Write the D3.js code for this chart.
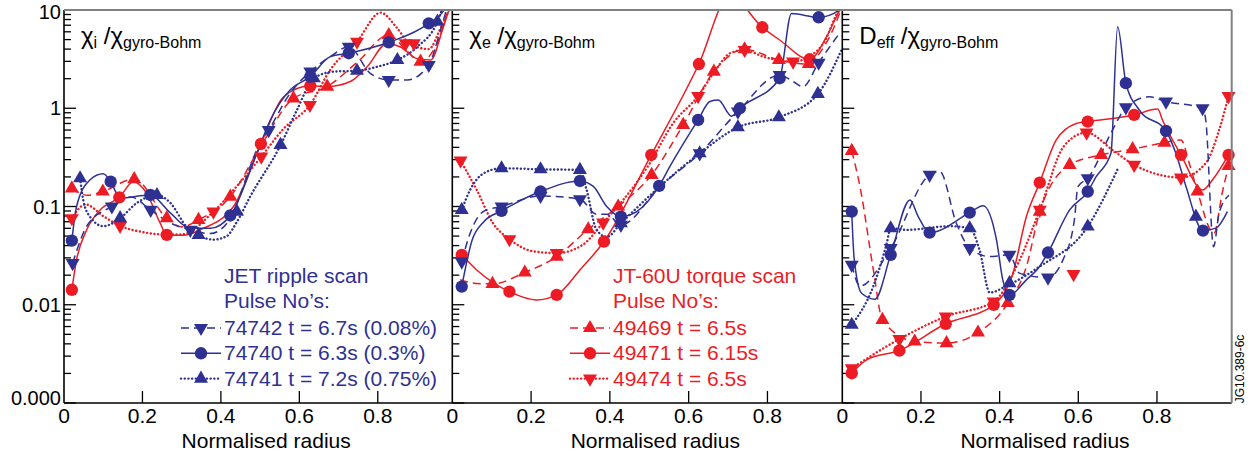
<!DOCTYPE html>
<meta charset="utf-8">
<style>
	body { margin:0; background:#fff; }
	svg { font-family: "Liberation Sans", Arial, Helvetica, sans-serif; }
</style>
<script src="https://cdn.jsdelivr.net/npm/d3@7"></script>
<body>
<svg id="chart" width="1257" height="459"></svg>
<script>
// axis ticks and labels
var xTicks = [0, 0.2, 0.4, 0.6, 0.8];
var xTickLabels = ["0", "0.2", "0.4", "0.6", "0.8"];
var yTicks = [0.001, 0.01, 0.1, 1, 10];
var yTickLabels = ["0.000", "0.01", "0.1", "1", "10"];
var panelTitles = [["χ", "i"], ["χ", "e"], ["D", "eff"]];

var jetNames = ["74742 t = 6.7s (0.08%)", "74740 t = 6.3s (0.3%)", "74741 t = 7.2s (0.75%)"];
var jtNames = ["49469 t = 6.5s", "49471 t = 6.15s", "49474 t = 6.5s"];

// ---- panel 1: chi_i ----  [normalised radius, value]
var chiI_74742_pts = [[0.022,0.0265],[0.122,0.10],[0.221,0.0923],[0.322,0.0578],[0.522,0.60],[0.628,2.36],[0.726,4.23],[0.828,1.94],[0.930,2.76]];
var chiI_74742_line = [[0.022,0.0265],[0.06,0.065],[0.122,0.10],[0.17,0.125],[0.221,0.092],[0.271,0.068],[0.322,0.058],[0.373,0.053],[0.416,0.068],[0.50,0.44],[0.522,0.60],[0.577,1.43],[0.628,2.36],[0.679,3.35],[0.726,4.23],[0.781,2.27],[0.828,1.94],[0.875,1.94],[0.93,2.76],[0.96,6.26],[0.985,14]];
var chiI_74740_pts = [[0.020,0.045],[0.119,0.179],[0.220,0.131],[0.424,0.081],[0.628,2.10],[0.726,3.63],[0.828,4.69],[0.930,7.32]];
var chiI_74740_line = [[0.02,0.045],[0.032,0.10],[0.066,0.186],[0.10,0.215],[0.119,0.179],[0.143,0.122],[0.22,0.131],[0.271,0.086],[0.322,0.06],[0.373,0.06],[0.424,0.081],[0.492,0.35],[0.526,0.76],[0.577,1.54],[0.628,2.1],[0.679,3.35],[0.726,3.63],[0.828,4.69],[0.93,7.32],[0.969,10],[0.99,16]];
var chiI_74741_pts = [[0.041,0.194],[0.143,0.076],[0.237,0.131],[0.343,0.0514],[0.441,0.0887],[0.552,0.423],[0.637,2.02],[0.747,2.41],[0.850,3.10],[0.952,7.6]];
var chiI_74741_line = [[0.041,0.194],[0.049,0.117],[0.066,0.079],[0.10,0.063],[0.143,0.076],[0.186,0.109],[0.237,0.131],[0.271,0.109],[0.313,0.062],[0.343,0.051],[0.381,0.046],[0.415,0.05],[0.441,0.07],[0.475,0.127],[0.552,0.42],[0.594,0.96],[0.637,2.02],[0.688,2.36],[0.747,2.41],[0.799,2.65],[0.85,3.1],[0.901,4.23],[0.952,7.6],[0.975,14]];
var chiI_49469_pts = [[0.020,0.153],[0.099,0.142],[0.179,0.19],[0.262,0.076],[0.343,0.073],[0.424,0.126],[0.585,1.26],[0.671,1.66],[0.828,5.57],[0.909,2.98]];
var chiI_49469_line = [[0.02,0.153],[0.06,0.13],[0.099,0.142],[0.179,0.19],[0.262,0.076],[0.30,0.062],[0.343,0.073],[0.424,0.126],[0.50,0.40],[0.585,1.26],[0.671,1.66],[0.75,3.0],[0.828,5.57],[0.87,4.0],[0.909,2.98],[0.95,4.5],[0.985,12]];
var chiI_49471_pts = [[0.020,0.0142],[0.141,0.124],[0.262,0.0514],[0.502,0.433],[0.628,1.69]];
var chiI_49471_line = [[0.02,0.0142],[0.032,0.0286],[0.058,0.058],[0.092,0.092],[0.141,0.124],[0.177,0.179],[0.211,0.136],[0.245,0.068],[0.262,0.0514],[0.305,0.051],[0.347,0.058],[0.432,0.10],[0.502,0.433],[0.56,1.31],[0.628,1.69],[0.671,1.66],[0.73,1.87],[0.773,2.65],[0.824,4.6],[0.858,4.2],[0.901,3.2],[0.935,3.1],[0.965,6.3],[0.99,13]];
var chiI_49474_pts = [[0.020,0.076],[0.143,0.0635],[0.381,0.0887],[0.503,0.322],[0.627,1.08],[0.747,4.76],[0.871,4.58],[0.892,4.58]];
var chiI_49474_line = [[0.02,0.076],[0.055,0.105],[0.10,0.08],[0.143,0.0635],[0.20,0.055],[0.25,0.052],[0.30,0.052],[0.381,0.0887],[0.44,0.16],[0.503,0.322],[0.56,0.62],[0.627,1.08],[0.68,2.5],[0.747,4.76],[0.807,9.4],[0.85,6.5],[0.88,4.58],[0.93,4.0],[0.96,6.5],[0.99,12]];

// ---- panel 2: chi_e ----
var chiE_74742_pts = [[0.024,0.0275],[0.125,0.10],[0.224,0.128],[0.324,0.1186],[0.428,0.065],[0.628,0.348],[0.725,0.923],[0.831,2.18],[0.930,2.91]];
var chiE_74742_line = [[0.024,0.0275],[0.045,0.053],[0.079,0.089],[0.125,0.10],[0.224,0.128],[0.324,0.1186],[0.366,0.0835],[0.392,0.0835],[0.428,0.065],[0.527,0.16],[0.628,0.348],[0.725,0.923],[0.831,2.18],[0.865,1.87],[0.89,1.66],[0.93,2.91],[0.983,5.8]];
var chiE_74740_pts = [[0.024,0.0153],[0.125,0.0902],[0.224,0.142],[0.324,0.182],[0.428,0.0789],[0.525,0.162],[0.624,0.76],[0.730,1.0],[0.831,2.02],[0.930,8.43]];
var chiE_74740_line = [[0.024,0.0153],[0.05,0.045],[0.08,0.07],[0.125,0.0902],[0.224,0.142],[0.324,0.182],[0.358,0.16],[0.392,0.10],[0.428,0.0789],[0.468,0.0887],[0.525,0.162],[0.552,0.254],[0.624,0.76],[0.654,1.17],[0.675,1.21],[0.709,0.83],[0.73,1.0],[0.831,2.02],[0.861,9.2],[0.93,8.43],[0.983,10],[0.99,11]];
var chiE_74741_pts = [[0.024,0.0923],[0.125,0.245],[0.224,0.239],[0.324,0.236],[0.428,0.0676],[0.628,0.348],[0.725,0.641],[0.829,0.81],[0.928,1.40]];
var chiE_74741_line = [[0.024,0.0923],[0.045,0.147],[0.079,0.217],[0.125,0.245],[0.224,0.239],[0.324,0.236],[0.341,0.1475],[0.366,0.058],[0.392,0.049],[0.428,0.0676],[0.527,0.16],[0.628,0.348],[0.725,0.641],[0.829,0.81],[0.928,1.4],[0.988,3.92]];
var chiE_49469_pts = [[0.102,0.0163],[0.184,0.0213],[0.265,0.0309],[0.345,0.0587],[0.421,0.10],[0.506,0.21],[0.586,0.676],[0.664,2.36],[0.742,3.98],[0.829,3.10],[0.905,2.82]];
var chiE_49469_line = [[0.02,0.018],[0.06,0.0165],[0.102,0.0163],[0.184,0.0213],[0.265,0.0309],[0.345,0.0587],[0.421,0.10],[0.506,0.21],[0.586,0.676],[0.664,2.36],[0.742,3.98],[0.829,3.1],[0.905,2.82],[0.932,3.63],[0.966,6.26],[0.99,11]];
var chiE_49471_pts = [[0.024,0.0322],[0.145,0.0136],[0.265,0.0126],[0.385,0.044],[0.505,0.335],[0.626,2.82],[0.787,6.67],[0.907,3.15]];
var chiE_49471_line = [[0.024,0.0322],[0.062,0.0226],[0.145,0.0136],[0.214,0.0112],[0.265,0.0126],[0.324,0.0226],[0.385,0.044],[0.505,0.335],[0.626,2.82],[0.704,14],[0.787,6.67],[0.831,4.95],[0.907,3.15],[0.95,5.35],[0.979,9.2],[0.99,11]];
var chiE_49474_pts = [[0.021,0.293],[0.145,0.0465],[0.265,0.0335],[0.383,0.0686],[0.624,1.33],[0.742,3.92],[0.865,2.98]];
var chiE_49474_line = [[0.021,0.293],[0.062,0.1475],[0.104,0.067],[0.145,0.0465],[0.205,0.035],[0.265,0.0335],[0.332,0.041],[0.383,0.0686],[0.434,0.117],[0.50,0.27],[0.56,0.7],[0.624,1.33],[0.671,2.54],[0.705,3.63],[0.742,3.92],[0.789,3.35],[0.865,2.98],[0.905,3.35],[0.947,4.95],[0.972,8.5],[0.99,12]];

// ---- panel 3: D_eff ----
var dEff_74742_pts = [[0.024,0.0255],[0.123,0.0377],[0.222,0.21],[0.324,0.0377],[0.425,0.0322],[0.523,0.0189],[0.624,0.194],[0.721,1.02],[0.823,1.17],[0.916,1.0]];
var dEff_74742_line = [[0.024,0.0255],[0.045,0.0155],[0.123,0.0377],[0.222,0.21],[0.248,0.226],[0.29,0.0676],[0.324,0.0377],[0.375,0.0309],[0.425,0.0322],[0.45,0.021],[0.523,0.0189],[0.561,0.0286],[0.59,0.0731],[0.599,0.159],[0.624,0.194],[0.687,0.60],[0.721,1.02],[0.781,1.31],[0.823,1.17],[0.916,1.0],[0.924,0.76],[0.944,0.039],[0.958,0.0855],[0.983,0.13]];
var dEff_74740_pts = [[0.024,0.0887],[0.123,0.0322],[0.222,0.0543],[0.324,0.0867],[0.425,0.0126],[0.523,0.034],[0.624,0.142],[0.721,1.80],[0.823,0.587],[0.917,0.0569]];
var dEff_74740_line = [[0.024,0.0887],[0.03,0.03],[0.049,0.0131],[0.083,0.0114],[0.123,0.0322],[0.172,0.1167],[0.193,0.0789],[0.222,0.0543],[0.324,0.0867],[0.358,0.102],[0.392,0.0457],[0.408,0.0179],[0.425,0.0126],[0.468,0.0179],[0.501,0.0244],[0.523,0.034],[0.578,0.0923],[0.624,0.142],[0.645,0.2],[0.683,0.348],[0.70,6.77],[0.721,1.80],[0.755,0.96],[0.823,0.587],[0.848,0.348],[0.874,0.159],[0.917,0.0569],[0.95,0.0602],[0.979,0.0887]];
var dEff_74741_pts = [[0.024,0.00625],[0.123,0.0601],[0.324,0.0601],[0.425,0.0166],[0.624,0.0625],[0.899,0.0789]];
var dEff_74741_line = [[0.024,0.00625],[0.079,0.0155],[0.113,0.0422],[0.123,0.0601],[0.163,0.0578],[0.273,0.063],[0.324,0.0601],[0.349,0.036],[0.375,0.0133],[0.417,0.0155],[0.501,0.0244],[0.624,0.0625],[0.70,0.24]];
var dEff_49469_pts = [[0.024,0.368],[0.102,0.00702],[0.184,0.00422],[0.265,0.00407],[0.345,0.00521],[0.421,0.0104],[0.502,0.0887],[0.578,0.265],[0.658,0.335],[0.738,0.383],[0.819,0.447],[0.903,0.142],[0.982,0.259]];
var dEff_49469_line = [[0.024,0.368],[0.045,0.159],[0.079,0.0226],[0.102,0.00702],[0.184,0.00422],[0.265,0.00407],[0.345,0.00521],[0.421,0.0104],[0.468,0.0244],[0.502,0.0887],[0.578,0.265],[0.658,0.335],[0.738,0.383],[0.819,0.447],[0.861,0.476],[0.882,0.276],[0.903,0.142],[0.945,0.0534],[0.966,0.138],[0.982,0.259]];
var dEff_49471_pts = [[0.024,0.00201],[0.145,0.00342],[0.263,0.0064],[0.385,0.00998],[0.502,0.175],[0.624,0.731],[0.742,0.855],[0.861,0.335],[0.982,0.335]];
var dEff_49471_line = [[0.024,0.00201],[0.062,0.00275],[0.145,0.00342],[0.263,0.0064],[0.385,0.00998],[0.434,0.021],[0.468,0.079],[0.502,0.175],[0.544,0.476],[0.595,0.70],[0.624,0.731],[0.742,0.855],[0.802,0.98],[0.814,0.76],[0.861,0.335],[0.916,0.147],[0.941,0.186],[0.982,0.335]];
var dEff_49474_pts = [[0.024,0.00226],[0.145,0.00447],[0.263,0.00759],[0.385,0.0108],[0.502,0.0923],[0.588,0.0205],[0.621,0.565],[0.742,0.265],[0.861,0.197],[0.982,1.33]];
var dEff_49474_line = [[0.024,0.00226],[0.145,0.00447],[0.263,0.00759],[0.385,0.0108],[0.451,0.0286],[0.502,0.0923],[0.565,0.42],[0.621,0.565],[0.687,0.376],[0.742,0.265],[0.797,0.215],[0.861,0.197],[0.924,0.276],[0.958,0.60],[0.982,1.33]];

var blue = "#2e3192", red = "#ed1c24";
var styles = {
	dashed: {dash: "8,5", width: 1.5, cap: "butt"},
	solid: {dash: null, width: 1.5, cap: "butt"},
	dotted: {dash: "0.1,3.6", width: 2.4, cap: "round"}
};

function makeSeries(pts, line, color, style, shape) {
	return {pts: pts, line: line, color: color, style: style, shape: shape};
}

var panels = [
	{left: 64, right: 452.3, title: panelTitles[0], series: [
		makeSeries(chiI_49469_pts, chiI_49469_line, red, "dashed", "up"),
		makeSeries(chiI_49471_pts, chiI_49471_line, red, "solid", "circle"),
		makeSeries(chiI_49474_pts, chiI_49474_line, red, "dotted", "down"),
		makeSeries(chiI_74742_pts, chiI_74742_line, blue, "dashed", "down"),
		makeSeries(chiI_74740_pts, chiI_74740_line, blue, "solid", "circle"),
		makeSeries(chiI_74741_pts, chiI_74741_line, blue, "dotted", "up")]},
	{left: 452.3, right: 842.3, title: panelTitles[1], series: [
		makeSeries(chiE_49469_pts, chiE_49469_line, red, "dashed", "up"),
		makeSeries(chiE_49471_pts, chiE_49471_line, red, "solid", "circle"),
		makeSeries(chiE_49474_pts, chiE_49474_line, red, "dotted", "down"),
		makeSeries(chiE_74742_pts, chiE_74742_line, blue, "dashed", "down"),
		makeSeries(chiE_74740_pts, chiE_74740_line, blue, "solid", "circle"),
		makeSeries(chiE_74741_pts, chiE_74741_line, blue, "dotted", "up")]},
	{left: 842.3, right: 1231.7, title: panelTitles[2], series: [
		makeSeries(dEff_49469_pts, dEff_49469_line, red, "dashed", "up"),
		makeSeries(dEff_49471_pts, dEff_49471_line, red, "solid", "circle"),
		makeSeries(dEff_49474_pts, dEff_49474_line, red, "dotted", "down"),
		makeSeries(dEff_74742_pts, dEff_74742_line, blue, "dashed", "down"),
		makeSeries(dEff_74740_pts, dEff_74740_line, blue, "solid", "circle"),
		makeSeries(dEff_74741_pts, dEff_74741_line, blue, "dotted", "up")]}
];

var svg = d3.select("#chart");
var plotTop = 10, plotBottom = 403;

var y = d3.scaleLog().domain([0.001, 10]).range([plotBottom, plotTop]);

function drawMarker(g, shape, color, cx, cy) {
	var sym = shape == "circle" ? d3.symbol().type(d3.symbolCircle).size(120)
		: d3.symbol().type(d3.symbolTriangle).size(85);
	g.append("path")
		.attr("d", sym())
		.attr("fill", color)
		.attr("transform", "translate(" + cx + "," + cy + ")" + (shape == "down" ? " rotate(180)" : ""));
}

panels.forEach(function(p, pi) {
	var x = d3.scaleLinear().domain([0, 0.99]).range([p.left, p.right]);
	var g = svg.append("g");

	g.append("clipPath").attr("id", "clip" + pi)
		.append("rect")
		.attr("x", p.left).attr("y", plotTop)
		.attr("width", p.right - p.left).attr("height", plotBottom - plotTop);

	// y ticks pointing inward from the left edge
	y.ticks().forEach(function(t) {
		var major = Math.abs(Math.log10(t) - Math.round(Math.log10(t))) < 1e-6;
		g.append("line")
			.attr("x1", p.left).attr("x2", p.left + (major ? 12 : 7))
			.attr("y1", y(t)).attr("y2", y(t))
			.attr("stroke", "#000").attr("stroke-width", 1.3);
	});

	// x ticks pointing up
	xTicks.forEach(function(t, i) {
		if (t > 0) {
			g.append("line")
				.attr("x1", x(t)).attr("x2", x(t))
				.attr("y1", plotBottom).attr("y2", plotBottom - 12)
				.attr("stroke", "#000").attr("stroke-width", 1.3);
		}
		g.append("text")
			.attr("x", x(t)).attr("y", 423)
			.attr("text-anchor", "middle")
			.attr("font-size", 21)
			.text(xTickLabels[i]);
	});

	g.append("text")
		.attr("x", (p.left + p.right) / 2 + 8).attr("y", 448)
		.attr("text-anchor", "middle")
		.attr("font-size", 21)
		.text("Normalised radius");

	// left axis line
	g.append("line")
		.attr("x1", p.left).attr("x2", p.left)
		.attr("y1", plotTop).attr("y2", plotBottom)
		.attr("stroke", "#000").attr("stroke-width", 1.6);

	// title
	var title = g.append("text")
		.attr("x", p.left + 17).attr("y", 44)
		.attr("font-size", 24);
	title.append("tspan").text(p.title[0]);
	title.append("tspan").attr("font-size", 16).attr("dy", 4).text(p.title[1]);
	title.append("tspan").attr("dy", -4).text(" /χ");
	title.append("tspan").attr("font-size", 16).attr("dy", 4).text("gyro-Bohm");

	var lineGen = d3.line()
		.x(function(d) { return x(d[0]); })
		.y(function(d) { return y(d[1]); })
		.curve(d3.curveMonotoneX);

	var plot = g.append("g").attr("clip-path", "url(#clip" + pi + ")");
	p.series.forEach(function(s) {
		var st = styles[s.style];
		plot.append("path")
			.attr("d", lineGen(s.line))
			.attr("fill", "none")
			.attr("stroke", s.color)
			.attr("stroke-width", st.width)
			.attr("stroke-linecap", st.cap)
			.attr("stroke-dasharray", st.dash);
	});
	p.series.forEach(function(s) {
		s.pts.forEach(function(d) {
			drawMarker(g, s.shape, s.color, x(d[0]), y(d[1]));
		});
	});
});

// y labels on first panel
yTicks.forEach(function(t, i) {
	var yy = y(t) + 7;
	if (i == 0) yy -= 5;
	if (i == yTicks.length - 1) yy = 19;
	svg.append("text")
		.attr("x", 61).attr("y", yy)
		.attr("text-anchor", "end")
		.attr("font-size", 20)
		.text(yTickLabels[i]);
});

// frame: bottom axis, grey top and right
svg.append("line")
	.attr("x1", 64).attr("x2", 1231.7).attr("y1", plotBottom).attr("y2", plotBottom)
	.attr("stroke", "#000").attr("stroke-width", 1.6);
svg.append("line")
	.attr("x1", 64).attr("x2", 1231.7).attr("y1", plotTop).attr("y2", plotTop)
	.attr("stroke", "#808080").attr("stroke-width", 2);
svg.append("line")
	.attr("x1", 1231.7).attr("x2", 1231.7).attr("y1", plotTop).attr("y2", plotBottom)
	.attr("stroke", "#808080").attr("stroke-width", 2);

// legends
function legend(x0, color, header, names, shapes, styleNames, sampleX1, sampleX2) {
	var lg = svg.append("g").attr("fill", color).attr("font-size", 21);
	lg.append("text").attr("x", x0).attr("y", 283).text(header[0]);
	lg.append("text").attr("x", x0).attr("y", 308).text(header[1]);
	names.forEach(function(n, i) {
		var yy = 335 + i * 25.3;
		var st = styles[styleNames[i]];
		lg.append("line")
			.attr("x1", sampleX1).attr("x2", sampleX2)
			.attr("y1", yy - 7).attr("y2", yy - 7)
			.attr("stroke", color).attr("stroke-width", st.width)
			.attr("stroke-linecap", st.cap)
			.attr("stroke-dasharray", st.dash);
		drawMarker(lg, shapes[i], color, (sampleX1 + sampleX2) / 2, yy - 7);
		lg.append("text").attr("x", x0).attr("y", yy).text(n);
	});
}
legend(224, blue, ["JET ripple scan", "Pulse No’s:"], jetNames,
	["down", "circle", "up"], ["dashed", "solid", "dotted"], 181, 221);
legend(613, red, ["JT-60U torque scan", "Pulse No’s:"], jtNames,
	["up", "circle", "down"], ["dashed", "solid", "dotted"], 570, 610);

svg.append("text")
	.attr("transform", "translate(1244,369) rotate(-90)")
	.attr("text-anchor", "middle")
	.attr("font-size", 12)
	.text("JG10.389-6c");
</script>
</body>
